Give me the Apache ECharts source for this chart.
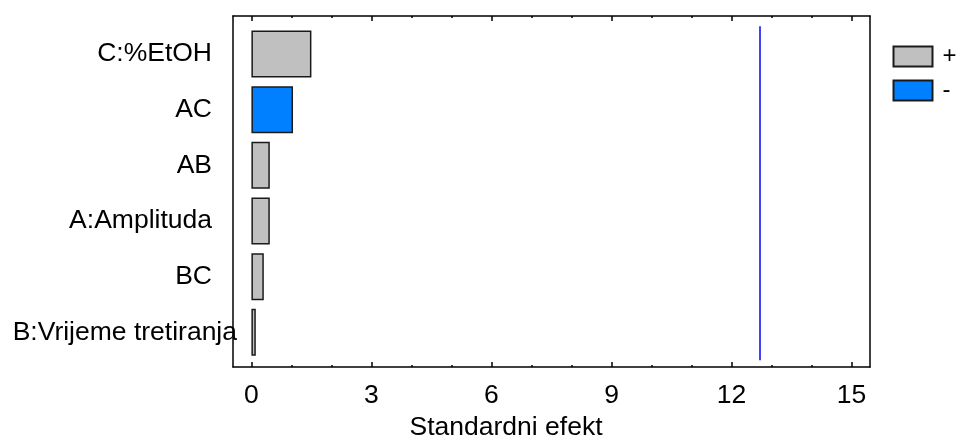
<!DOCTYPE html>
<html>
<head>
<meta charset="utf-8">
<script src="https://cdn.jsdelivr.net/npm/echarts@6/dist/echarts.min.js"></script>
<style>html,body{margin:0;padding:0;background:#fff}#c{width:957px;height:436px}</style>
</head>
<body>
<div id="c"></div>
<script>
// bottom-to-top order
const categories = ['B:Vrijeme tretiranja', 'BC', 'A:Amplituda', 'AB', 'AC', 'C:%EtOH'];
const positiveEffects = [0.11, 0.31, 0.46, 0.46, '-', 1.50];
const negativeEffects = ['-', '-', '-', '-', 1.04, '-'];
const criticalValue = 12.71;
const majorTicks = [0, 3, 6, 9, 12, 15];
const minorTicks = [1, 2, 4, 5, 7, 8, 10, 11, 13, 14];
const longLabel = 'B:Vrijeme tretiranja';

const FONT = "'Liberation Sans', Arial, sans-serif";
const FS = 26.5;
const XMIN = -0.46, XMAX = 15.46;
const black = '#000';

const chart = echarts.init(document.getElementById('c'), null, {renderer: 'canvas'});
chart.setOption({
  animation: false,
  backgroundColor: '#fff',
  textStyle: {fontFamily: FONT},
  grid: [
    {left: 233, right: 87, top: 16, bottom: 69, outerBoundsMode: 'none', containLabel: false},
    {left: 233, right: 87, top: 26.2, bottom: 75.8, outerBoundsMode: 'none', containLabel: false}
  ],
  legend: {
    data: ['+', '-'],
    orient: 'vertical',
    left: 892.5, top: 44.5, padding: 0,
    itemWidth: 39, itemHeight: 20, itemGap: 10,
    icon: 'rect',
    textStyle: {fontFamily: FONT, fontSize: 24, color: black, lineHeight: 20, padding: [0, 0, 0, 5]}
  },
  xAxis: [
    {gridIndex: 0, type: 'value', position: 'bottom', min: XMIN, max: XMAX,
     axisLine: {show: true, onZero: false, lineStyle: {color: black, width: 1.5}},
     axisTick: {show: true, inside: true, length: 5, customValues: majorTicks, lineStyle: {color: black, width: 1.5}},
     axisLabel: {show: true, customValues: majorTicks, fontFamily: FONT, fontSize: FS, color: black, margin: 15},
     splitLine: {show: false},
     name: 'Standardni efekt', nameLocation: 'middle', nameGap: 44,
     nameTextStyle: {fontFamily: FONT, fontSize: FS, color: black, padding: [0, 91, 0, 0]}},
    {gridIndex: 0, type: 'value', position: 'bottom', min: XMIN, max: XMAX,
     axisLine: {show: false, onZero: false},
     axisTick: {show: true, inside: true, length: 2, customValues: minorTicks, lineStyle: {color: black, width: 1.5}},
     axisLabel: {show: false}, splitLine: {show: false}},
    {gridIndex: 0, type: 'value', position: 'top', min: XMIN, max: XMAX,
     axisLine: {show: true, onZero: false, lineStyle: {color: black, width: 1.5}},
     axisTick: {show: true, inside: true, length: 5, customValues: majorTicks, lineStyle: {color: black, width: 1.5}},
     axisLabel: {show: false}, splitLine: {show: false}},
    {gridIndex: 0, type: 'value', position: 'top', min: XMIN, max: XMAX,
     axisLine: {show: false, onZero: false},
     axisTick: {show: true, inside: true, length: 2, customValues: minorTicks, lineStyle: {color: black, width: 1.5}},
     axisLabel: {show: false}, splitLine: {show: false}},
    {gridIndex: 1, type: 'value', min: XMIN, max: XMAX, show: false}
  ],
  yAxis: [
    {gridIndex: 0, type: 'value', position: 'left', min: 0, max: 1,
     axisLine: {show: true, onZero: false, lineStyle: {color: black, width: 1.5}},
     axisTick: {show: false}, axisLabel: {show: false}, splitLine: {show: false}},
    {gridIndex: 0, type: 'value', position: 'right', min: 0, max: 1,
     axisLine: {show: true, onZero: false, lineStyle: {color: black, width: 1.5}},
     axisTick: {show: false}, axisLabel: {show: false}, splitLine: {show: false}},
    {gridIndex: 1, type: 'category', position: 'left', data: categories,
     axisLine: {show: false, onZero: false}, axisTick: {show: false}, splitLine: {show: false},
     axisLabel: {fontFamily: FONT, fontSize: FS, color: black, margin: 21, interval: 0,
       formatter: v => (v === longLabel ? '' : v)}},
    {gridIndex: 1, type: 'category', position: 'left', data: categories,
     axisLine: {show: false, onZero: false}, axisTick: {show: false}, splitLine: {show: false},
     axisLabel: {fontFamily: FONT, fontSize: FS, color: black, margin: -4, interval: 0,
       formatter: v => (v === longLabel ? v : '')}}
  ],
  series: [
    {name: '+', type: 'bar', xAxisIndex: 4, yAxisIndex: 2, data: positiveEffects,
     barWidth: 47, barGap: '-100%',
     itemStyle: {color: '#c0c0c0', borderColor: '#1a1a1a', borderWidth: 1.5},
     markLine: {silent: true, symbol: 'none', label: {show: false},
       lineStyle: {color: '#0000ff', width: 1.5, type: 'solid'},
       data: [{xAxis: criticalValue}]}},
    {name: '-', type: 'bar', xAxisIndex: 4, yAxisIndex: 2, data: negativeEffects,
     barWidth: 47, barGap: '-100%',
     itemStyle: {color: '#0080ff', borderColor: '#1a1a1a', borderWidth: 1.5}}
  ]
});
</script>
</body>
</html>
